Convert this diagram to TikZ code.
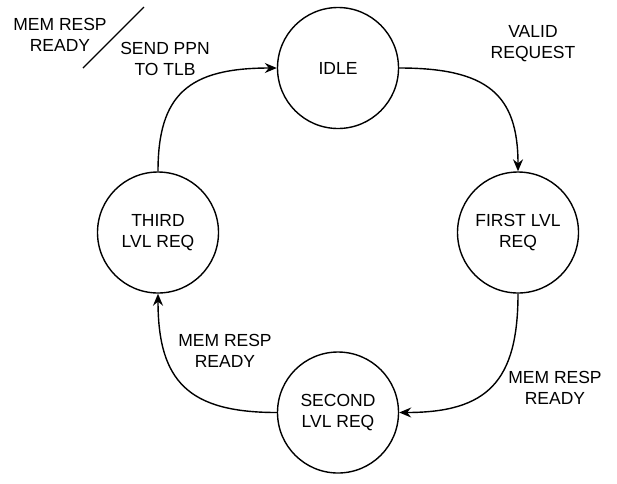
\documentclass[tikz,border=0pt]{standalone}
\usepackage{fontspec}
\setmainfont{Liberation Sans}
\usetikzlibrary{arrows.meta}
\begin{document}
\begin{tikzpicture}[x=1pt,y=-1pt,
  txt/.style={font=\fontsize{17.5}{21}\selectfont,align=center},
  state/.style={circle,draw,line width=1.4pt,minimum size=121pt,inner sep=0pt,txt},
  lbl/.style={txt,inner sep=0pt},
  trans/.style={line width=1.4pt,-{Stealth[length=12pt,width=10pt,inset=4pt]}}]
\useasboundingbox[fill=white] (0,0) rectangle (617,483);
\node[state] (idle)   at (338,68)    {IDLE};
\node[state] (first)  at (518,232.5) {FIRST LVL\\REQ};
\node[state] (second) at (338,412.5) {SECOND\\LVL REQ};
\node[state] (third)  at (158,232.5) {THIRD\\LVL REQ};
\draw[trans] (idle.east) .. controls +(88,0) and +(0,-77) .. (first.north);
\draw[trans] (first.south) .. controls +(0,88) and +(88,0) .. (second.east);
\draw[trans] (second.west) .. controls +(-88,0) and +(0,88) .. (third.south);
\draw[trans] (third.north) .. controls +(0,-77) and +(-88,0) .. (idle.west);
\node[lbl] (l1) at (533,43.5) {VALID\\REQUEST};
\node[lbl] (l2) at (555,388) {MEM RESP\\READY};
\node[lbl] (l3) at (225,350.5) {MEM RESP\\READY};
\node[lbl] (l4) at (60,35) {MEM RESP\\READY};
\node[lbl] (l5) at (165,58.5) {SEND PPN\\TO TLB};
\coordinate (s1) at (83,68);
\coordinate (s2) at (144,7);
\draw[line width=1.4pt] (s1) -- (s2);
\end{tikzpicture}
\end{document}
